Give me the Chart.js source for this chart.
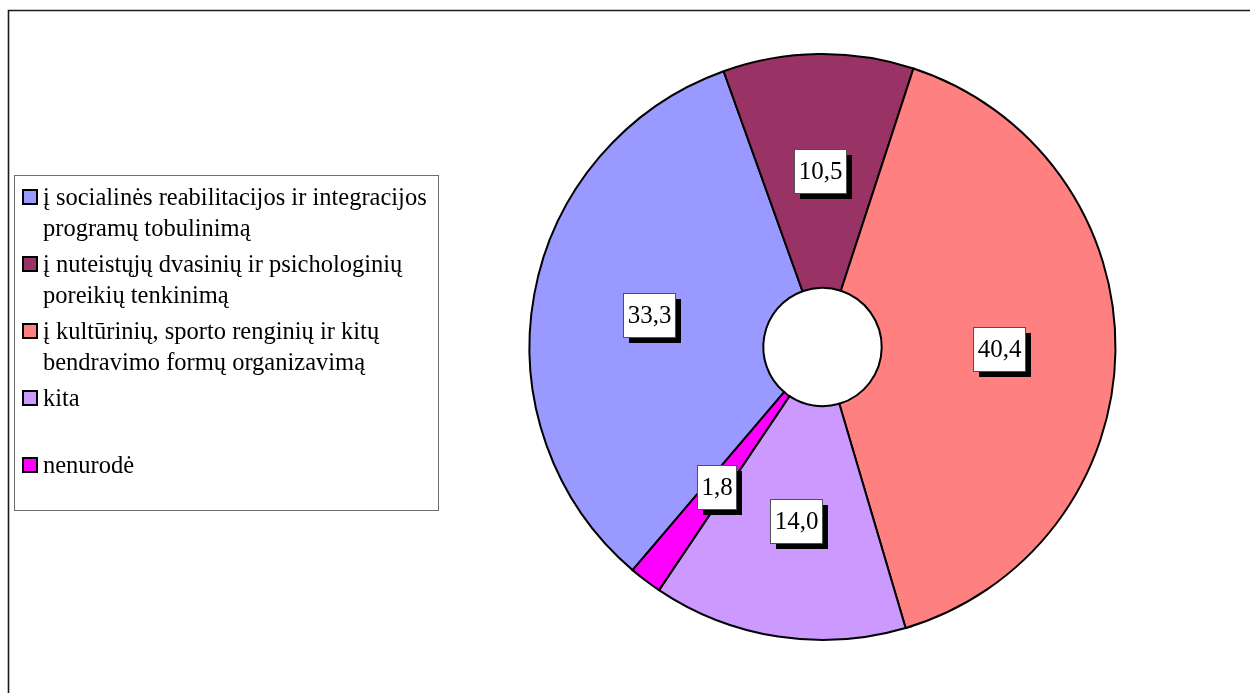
<!DOCTYPE html>
<html>
<head>
<meta charset="utf-8">
<script src="https://cdn.jsdelivr.net/npm/chart.js@4.4.1/dist/chart.umd.min.js"></script>
<style>
  html, body { margin: 0; padding: 0; background: #ffffff; }
  #wrap { position: relative; width: 1250px; height: 693px; }
</style>
</head>
<body>
<div id="wrap"><canvas id="c" width="1250" height="693"></canvas></div>
<script>
const categories = [
  "į socialinės reabilitacijos ir integracijos programų tobulinimą",
  "į nuteistųjų dvasinių ir psichologinių poreikių tenkinimą",
  "į kultūrinių, sporto renginių ir kitų bendravimo formų organizavimą",
  "kita",
  "nenurodė"
];
const values = [33.3, 10.5, 40.4, 14.0, 1.8];
const colors = ["#9999FF", "#993366", "#FF8080", "#CC99FF", "#FF00FF"];

const SERIF = '"Liberation Serif", "Times New Roman", "DejaVu Serif", serif';
const fmt = v => v.toFixed(1).replace('.', ',');

function wrapText(ctx, text, maxW) {
  const words = text.split(' ');
  const lines = [];
  let cur = '';
  for (const w of words) {
    const t = cur ? cur + ' ' + w : w;
    if (ctx.measureText(t).width > maxW && cur) { lines.push(cur); cur = w; }
    else cur = t;
  }
  if (cur) lines.push(cur);
  return lines;
}

const framePlugin = {
  id: 'frame',
  beforeDraw(chart) {
    const ctx = chart.ctx;
    ctx.save();
    ctx.fillStyle = '#ffffff';
    ctx.fillRect(0, 0, chart.width, chart.height);
    ctx.strokeStyle = '#1a1a1a';
    ctx.lineWidth = 1.6;
    ctx.beginPath();
    ctx.moveTo(8.5, chart.height + 5);
    ctx.lineTo(8.5, 10.5);
    ctx.lineTo(chart.width + 5, 10.5);
    ctx.stroke();
    ctx.restore();
  }
};

const legendPlugin = {
  id: 'customLegend',
  afterDraw(chart) {
    const ctx = chart.ctx;
    ctx.save();
    ctx.strokeStyle = '#6e6e6e';
    ctx.lineWidth = 1;
    ctx.strokeRect(14.5, 175.5, 424, 335);
    ctx.font = '24.5px ' + SERIF;
    ctx.textBaseline = 'middle';
    ctx.textAlign = 'left';
    const labels = chart.data.labels;
    const bg = chart.data.datasets[0].backgroundColor;
    const slot = 67, lineH = 31, firstY = 198;
    labels.forEach((lab, i) => {
      const y0 = firstY + i * slot;
      ctx.fillStyle = bg[i];
      ctx.fillRect(23, y0 - 8, 14, 14);
      ctx.strokeStyle = '#000000';
      ctx.lineWidth = 2;
      ctx.strokeRect(23, y0 - 8, 14, 14);
      ctx.fillStyle = '#000000';
      const lines = wrapText(ctx, lab, 394);
      lines.forEach((ln, k) => ctx.fillText(ln, 43, y0 + 1 + k * lineH));
    });
    ctx.restore();
  }
};

const labelPlugin = {
  id: 'boxLabels',
  afterDatasetsDraw(chart) {
    const ctx = chart.ctx;
    const meta = chart.getDatasetMeta(0);
    const data = chart.data.datasets[0].data;
    ctx.save();
    ctx.font = '25px ' + SERIF;
    ctx.textAlign = 'center';
    ctx.textBaseline = 'middle';
    meta.data.forEach((arc, i) => {
      const p = arc.tooltipPosition();
      const txt = fmt(data[i]);
      const w = Math.round(ctx.measureText(txt).width + 8);
      const h = 44;
      const x = Math.round(p.x - w / 2), y = Math.round(p.y - h / 2);
      ctx.fillStyle = '#000000';
      ctx.fillRect(x + 6, y + 6, w, h);
      ctx.fillStyle = '#ffffff';
      ctx.fillRect(x, y, w, h);
      ctx.strokeStyle = '#505050';
      ctx.lineWidth = 1;
      ctx.strokeRect(x + 0.5, y + 0.5, w, h);
      ctx.fillStyle = '#000000';
      ctx.fillText(txt, x + w / 2 + 0.5, y + h / 2 + 1);
    });
    ctx.restore();
  }
};

new Chart(document.getElementById('c'), {
  type: 'doughnut',
  data: {
    labels: categories,
    datasets: [{
      data: values,
      backgroundColor: colors,
      borderColor: '#000000',
      borderWidth: 2,
      borderJoinStyle: 'miter'
    }]
  },
  options: {
    responsive: false,
    animation: false,
    rotation: 220.4,
    cutout: 59,
    radius: 293,
    layout: { padding: { left: 529, right: 134, top: 54, bottom: 53 } },
    plugins: {
      legend: { display: false },
      tooltip: { enabled: false },
      title: { display: false }
    }
  },
  plugins: [framePlugin, legendPlugin, labelPlugin]
});
</script>
</body>
</html>
